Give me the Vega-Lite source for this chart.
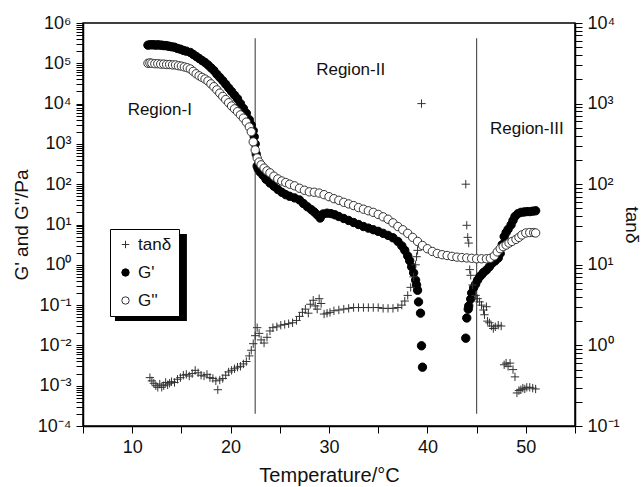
{
  "$schema": "https://vega.github.io/schema/vega-lite/v6.json",
  "width": 492,
  "height": 403,
  "autosize": {"type": "none"},
  "padding": {"left": 83, "top": 23, "right": 68, "bottom": 61},
  "background": "white",
  "config": {
    "font": "Liberation Sans",
    "view": {"stroke": "black", "strokeWidth": 1.5},
    "axis": {"domainColor": "black", "domainWidth": 1.5, "tickColor": "black", "tickWidth": 1, "labelColor": "#111", "titleColor": "#111", "labelFont": "Liberation Sans", "titleFont": "Liberation Sans", "grid": false, "labelFontSize": 18, "titleFontSize": 19, "titleFontWeight": "normal", "labelOverlap": false, "tickSize": 7}
  },
  "datasets": {
    "vl": [{"T": 22.5}, {"T": 45}],
    "d": [
      {"s":"G'","T":11.6,"v":282000},{"s":"G'","T":11.8,"v":288000},{"s":"G'","T":12.0,"v":288000},{"s":"G'","T":12.2,"v":288000},{"s":"G'","T":12.4,"v":282000},{"s":"G'","T":12.6,"v":288000},{"s":"G'","T":12.8,"v":282000},{"s":"G'","T":13.0,"v":282000},{"s":"G'","T":13.2,"v":275000},{"s":"G'","T":13.4,"v":275000},{"s":"G'","T":13.6,"v":269000},{"s":"G'","T":13.8,"v":263000},{"s":"G'","T":14.0,"v":257000},{"s":"G'","T":14.3,"v":251000},{"s":"G'","T":14.6,"v":234000},{"s":"G'","T":14.9,"v":224000},{"s":"G'","T":15.2,"v":209000},{"s":"G'","T":15.5,"v":200000},{"s":"G'","T":15.9,"v":186000},{"s":"G'","T":16.2,"v":166000},{"s":"G'","T":16.5,"v":148000},{"s":"G'","T":16.8,"v":132000},{"s":"G'","T":17.1,"v":117000},{"s":"G'","T":17.4,"v":105000},{"s":"G'","T":17.7,"v":91200},{"s":"G'","T":18.0,"v":77600},{"s":"G'","T":18.3,"v":66100},{"s":"G'","T":18.6,"v":53700},{"s":"G'","T":18.9,"v":44700},{"s":"G'","T":19.2,"v":37200},{"s":"G'","T":19.5,"v":30200},{"s":"G'","T":19.8,"v":24500},{"s":"G'","T":20.1,"v":20000},{"s":"G'","T":20.4,"v":16200},{"s":"G'","T":20.7,"v":13200},{"s":"G'","T":21.0,"v":10000},{"s":"G'","T":21.3,"v":7590},{"s":"G'","T":21.6,"v":5750},{"s":"G'","T":21.9,"v":3980},{"s":"G'","T":22.1,"v":2950},{"s":"G'","T":22.3,"v":2140},{"s":"G'","T":22.4,"v":1510},{"s":"G'","T":22.5,"v":1000},{"s":"G'","T":22.6,"v":562},{"s":"G'","T":22.7,"v":282},{"s":"G'","T":22.8,"v":240},{"s":"G'","T":23.0,"v":200},{"s":"G'","T":23.3,"v":166},{"s":"G'","T":23.6,"v":132},{"s":"G'","T":24.0,"v":107},{"s":"G'","T":24.4,"v":89.1},{"s":"G'","T":24.8,"v":74.1},{"s":"G'","T":25.2,"v":63.1},{"s":"G'","T":25.6,"v":55.0},{"s":"G'","T":26.0,"v":50.1},{"s":"G'","T":26.5,"v":45.7},{"s":"G'","T":27.0,"v":40.7},{"s":"G'","T":27.4,"v":33.1},{"s":"G'","T":27.8,"v":27.5},{"s":"G'","T":28.2,"v":23.4},{"s":"G'","T":28.5,"v":20.4},{"s":"G'","T":28.8,"v":17.4},{"s":"G'","T":29.1,"v":14.5},{"s":"G'","T":29.4,"v":18.2},{"s":"G'","T":29.8,"v":19.1},{"s":"G'","T":30.2,"v":18.6},{"s":"G'","T":30.6,"v":17.4},{"s":"G'","T":31.0,"v":15.8},{"s":"G'","T":31.5,"v":14.1},{"s":"G'","T":32.0,"v":12.6},{"s":"G'","T":32.5,"v":11.2},{"s":"G'","T":33.0,"v":10.0},{"s":"G'","T":33.5,"v":8.91},{"s":"G'","T":34.0,"v":8.13},{"s":"G'","T":34.5,"v":7.41},{"s":"G'","T":35.0,"v":6.76},{"s":"G'","T":35.5,"v":6.03},{"s":"G'","T":36.0,"v":5.37},{"s":"G'","T":36.5,"v":4.68},{"s":"G'","T":37.0,"v":3.80},{"s":"G'","T":37.4,"v":2.95},{"s":"G'","T":37.7,"v":2.29},{"s":"G'","T":38.0,"v":1.66},{"s":"G'","T":38.2,"v":1.26},{"s":"G'","T":38.4,"v":0.891},{"s":"G'","T":38.6,"v":0.631},{"s":"G'","T":38.8,"v":0.417},{"s":"G'","T":38.9,"v":0.316},{"s":"G'","T":39.0,"v":0.234},{"s":"G'","T":39.1,"v":0.120},{"s":"G'","T":39.3,"v":0.0631},{"s":"G'","T":39.4,"v":0.00977},{"s":"G'","T":39.5,"v":0.00288},{"s":"G'","T":43.9,"v":0.0151},{"s":"G'","T":44.0,"v":0.0479},{"s":"G'","T":44.15,"v":0.0794},{"s":"G'","T":44.2,"v":0.0955},{"s":"G'","T":44.4,"v":0.141},{"s":"G'","T":44.5,"v":0.2},{"s":"G'","T":44.7,"v":0.269},{"s":"G'","T":44.9,"v":0.331},{"s":"G'","T":45.1,"v":0.417},{"s":"G'","T":45.3,"v":0.501},{"s":"G'","T":45.5,"v":0.562},{"s":"G'","T":45.7,"v":0.646},{"s":"G'","T":46.0,"v":0.741},{"s":"G'","T":46.3,"v":0.891},{"s":"G'","T":46.6,"v":1.10},{"s":"G'","T":46.9,"v":1.26},{"s":"G'","T":47.2,"v":1.48},{"s":"G'","T":47.4,"v":1.91},{"s":"G'","T":47.6,"v":3.16},{"s":"G'","T":47.8,"v":5.01},{"s":"G'","T":48.0,"v":6.31},{"s":"G'","T":48.2,"v":7.59},{"s":"G'","T":48.5,"v":9.77},{"s":"G'","T":48.7,"v":12.6},{"s":"G'","T":48.9,"v":15.8},{"s":"G'","T":49.2,"v":18.6},{"s":"G'","T":49.5,"v":20.0},{"s":"G'","T":49.8,"v":20.4},{"s":"G'","T":50.1,"v":20.9},{"s":"G'","T":50.4,"v":20.9},{"s":"G'","T":50.7,"v":21.4},{"s":"G'","T":51.0,"v":21.9},
      {"s":"G''","T":11.6,"v":100000},{"s":"G''","T":11.8,"v":102000},{"s":"G''","T":12.0,"v":100000},{"s":"G''","T":12.3,"v":97700},{"s":"G''","T":12.6,"v":97700},{"s":"G''","T":12.9,"v":95500},{"s":"G''","T":13.2,"v":95500},{"s":"G''","T":13.5,"v":93300},{"s":"G''","T":13.8,"v":93300},{"s":"G''","T":14.1,"v":91200},{"s":"G''","T":14.4,"v":91200},{"s":"G''","T":14.7,"v":87100},{"s":"G''","T":15.0,"v":85100},{"s":"G''","T":15.3,"v":81300},{"s":"G''","T":15.6,"v":77600},{"s":"G''","T":15.9,"v":72400},{"s":"G''","T":16.2,"v":63100},{"s":"G''","T":16.5,"v":55000},{"s":"G''","T":16.8,"v":49000},{"s":"G''","T":17.1,"v":44700},{"s":"G''","T":17.4,"v":40700},{"s":"G''","T":17.7,"v":36300},{"s":"G''","T":18.0,"v":30900},{"s":"G''","T":18.3,"v":26300},{"s":"G''","T":18.6,"v":21900},{"s":"G''","T":18.9,"v":18200},{"s":"G''","T":19.2,"v":15100},{"s":"G''","T":19.5,"v":12600},{"s":"G''","T":19.8,"v":10500},{"s":"G''","T":20.1,"v":8710},{"s":"G''","T":20.4,"v":7410},{"s":"G''","T":20.7,"v":6310},{"s":"G''","T":21.0,"v":5250},{"s":"G''","T":21.3,"v":4370},{"s":"G''","T":21.6,"v":3470},{"s":"G''","T":21.9,"v":2630},{"s":"G''","T":22.1,"v":2000},{"s":"G''","T":22.3,"v":1120},{"s":"G''","T":22.5,"v":708},{"s":"G''","T":22.7,"v":447},{"s":"G''","T":22.9,"v":355},{"s":"G''","T":23.1,"v":302},{"s":"G''","T":23.4,"v":251},{"s":"G''","T":23.7,"v":214},{"s":"G''","T":24.0,"v":191},{"s":"G''","T":24.4,"v":158},{"s":"G''","T":24.8,"v":135},{"s":"G''","T":25.2,"v":120},{"s":"G''","T":25.6,"v":110},{"s":"G''","T":26.0,"v":100},{"s":"G''","T":26.5,"v":91.2},{"s":"G''","T":27.0,"v":79.4},{"s":"G''","T":27.5,"v":70.8},{"s":"G''","T":28.0,"v":64.6},{"s":"G''","T":28.5,"v":63.1},{"s":"G''","T":29.0,"v":60.3},{"s":"G''","T":29.5,"v":55.0},{"s":"G''","T":30.0,"v":49.0},{"s":"G''","T":30.5,"v":43.7},{"s":"G''","T":31.0,"v":39.8},{"s":"G''","T":31.5,"v":35.5},{"s":"G''","T":32.0,"v":32.4},{"s":"G''","T":32.5,"v":29.5},{"s":"G''","T":33.0,"v":26.3},{"s":"G''","T":33.5,"v":24.0},{"s":"G''","T":34.0,"v":21.9},{"s":"G''","T":34.5,"v":20.0},{"s":"G''","T":35.0,"v":17.8},{"s":"G''","T":35.5,"v":15.5},{"s":"G''","T":36.0,"v":13.5},{"s":"G''","T":36.5,"v":11.0},{"s":"G''","T":37.0,"v":8.91},{"s":"G''","T":37.5,"v":7.41},{"s":"G''","T":38.0,"v":6.03},{"s":"G''","T":38.5,"v":4.79},{"s":"G''","T":39.0,"v":3.80},{"s":"G''","T":39.5,"v":3.02},{"s":"G''","T":40.0,"v":2.51},{"s":"G''","T":40.5,"v":2.14},{"s":"G''","T":41.0,"v":1.91},{"s":"G''","T":41.5,"v":1.78},{"s":"G''","T":42.0,"v":1.70},{"s":"G''","T":42.5,"v":1.62},{"s":"G''","T":43.0,"v":1.55},{"s":"G''","T":43.5,"v":1.51},{"s":"G''","T":44.0,"v":1.48},{"s":"G''","T":44.5,"v":1.45},{"s":"G''","T":45.0,"v":1.41},{"s":"G''","T":45.5,"v":1.41},{"s":"G''","T":46.0,"v":1.41},{"s":"G''","T":46.4,"v":1.45},{"s":"G''","T":46.8,"v":1.66},{"s":"G''","T":47.1,"v":2.09},{"s":"G''","T":47.4,"v":2.51},{"s":"G''","T":47.7,"v":2.82},{"s":"G''","T":48.0,"v":3.09},{"s":"G''","T":48.3,"v":3.47},{"s":"G''","T":48.6,"v":3.80},{"s":"G''","T":49.0,"v":4.27},{"s":"G''","T":49.3,"v":4.79},{"s":"G''","T":49.6,"v":5.50},{"s":"G''","T":50.0,"v":6.17},{"s":"G''","T":50.4,"v":6.31},{"s":"G''","T":50.8,"v":6.31},{"s":"G''","T":51.0,"v":6.17},
      {"s":"tanδ","T":11.8,"v":0.398},{"s":"tanδ","T":12.0,"v":0.363},{"s":"tanδ","T":12.2,"v":0.339},{"s":"tanδ","T":12.4,"v":0.316},{"s":"tanδ","T":12.6,"v":0.302},{"s":"tanδ","T":12.8,"v":0.331},{"s":"tanδ","T":13.0,"v":0.302},{"s":"tanδ","T":13.2,"v":0.316},{"s":"tanδ","T":13.4,"v":0.347},{"s":"tanδ","T":13.6,"v":0.324},{"s":"tanδ","T":13.8,"v":0.339},{"s":"tanδ","T":14.0,"v":0.355},{"s":"tanδ","T":14.3,"v":0.347},{"s":"tanδ","T":14.6,"v":0.380},{"s":"tanδ","T":14.9,"v":0.398},{"s":"tanδ","T":15.2,"v":0.427},{"s":"tanδ","T":15.5,"v":0.437},{"s":"tanδ","T":15.8,"v":0.417},{"s":"tanδ","T":16.1,"v":0.447},{"s":"tanδ","T":16.4,"v":0.490},{"s":"tanδ","T":16.7,"v":0.457},{"s":"tanδ","T":17.0,"v":0.427},{"s":"tanδ","T":17.3,"v":0.417},{"s":"tanδ","T":17.6,"v":0.437},{"s":"tanδ","T":17.9,"v":0.398},{"s":"tanδ","T":18.2,"v":0.389},{"s":"tanδ","T":18.5,"v":0.363},{"s":"tanδ","T":18.7,"v":0.282},{"s":"tanδ","T":18.9,"v":0.372},{"s":"tanδ","T":19.2,"v":0.389},{"s":"tanδ","T":19.5,"v":0.427},{"s":"tanδ","T":19.8,"v":0.468},{"s":"tanδ","T":20.1,"v":0.490},{"s":"tanδ","T":20.4,"v":0.513},{"s":"tanδ","T":20.7,"v":0.537},{"s":"tanδ","T":21.0,"v":0.550},{"s":"tanδ","T":21.3,"v":0.589},{"s":"tanδ","T":21.6,"v":0.631},{"s":"tanδ","T":21.9,"v":0.741},{"s":"tanδ","T":22.1,"v":0.871},{"s":"tanδ","T":22.3,"v":1.05},{"s":"tanδ","T":22.5,"v":1.32},{"s":"tanδ","T":22.7,"v":1.66},{"s":"tanδ","T":22.9,"v":1.41},{"s":"tanδ","T":23.1,"v":1.17},{"s":"tanδ","T":23.4,"v":1.07},{"s":"tanδ","T":23.7,"v":1.26},{"s":"tanδ","T":24.0,"v":1.51},{"s":"tanδ","T":24.3,"v":1.66},{"s":"tanδ","T":24.7,"v":1.70},{"s":"tanδ","T":25.1,"v":1.78},{"s":"tanδ","T":25.5,"v":1.82},{"s":"tanδ","T":25.9,"v":1.86},{"s":"tanδ","T":26.3,"v":1.91},{"s":"tanδ","T":26.7,"v":2.04},{"s":"tanδ","T":27.0,"v":2.29},{"s":"tanδ","T":27.3,"v":2.57},{"s":"tanδ","T":27.6,"v":2.82},{"s":"tanδ","T":27.9,"v":2.51},{"s":"tanδ","T":28.1,"v":3.24},{"s":"tanδ","T":28.4,"v":3.63},{"s":"tanδ","T":28.6,"v":3.09},{"s":"tanδ","T":28.8,"v":2.82},{"s":"tanδ","T":29.0,"v":3.80},{"s":"tanδ","T":29.2,"v":3.31},{"s":"tanδ","T":29.5,"v":2.45},{"s":"tanδ","T":29.8,"v":2.51},{"s":"tanδ","T":30.1,"v":2.57},{"s":"tanδ","T":30.5,"v":2.69},{"s":"tanδ","T":31.0,"v":2.75},{"s":"tanδ","T":31.5,"v":2.82},{"s":"tanδ","T":32.0,"v":2.88},{"s":"tanδ","T":32.5,"v":2.95},{"s":"tanδ","T":33.0,"v":2.95},{"s":"tanδ","T":33.5,"v":2.95},{"s":"tanδ","T":34.0,"v":2.95},{"s":"tanδ","T":34.5,"v":2.95},{"s":"tanδ","T":35.0,"v":2.95},{"s":"tanδ","T":35.5,"v":2.88},{"s":"tanδ","T":36.0,"v":2.88},{"s":"tanδ","T":36.5,"v":2.88},{"s":"tanδ","T":37.0,"v":2.95},{"s":"tanδ","T":37.4,"v":3.16},{"s":"tanδ","T":37.7,"v":3.55},{"s":"tanδ","T":38.0,"v":4.17},{"s":"tanδ","T":38.3,"v":5.25},{"s":"tanδ","T":38.6,"v":7.08},{"s":"tanδ","T":38.8,"v":10.0},{"s":"tanδ","T":38.9,"v":12.6},{"s":"tanδ","T":39.0,"v":15.1},{"s":"tanδ","T":39.4,"v":1000},{"s":"tanδ","T":43.9,"v":100},{"s":"tanδ","T":44.0,"v":30.9},{"s":"tanδ","T":44.1,"v":21.9},{"s":"tanδ","T":44.2,"v":18.6},{"s":"tanδ","T":44.3,"v":8.71},{"s":"tanδ","T":44.4,"v":7.41},{"s":"tanδ","T":44.6,"v":5.62},{"s":"tanδ","T":44.9,"v":4.17},{"s":"tanδ","T":45.1,"v":3.80},{"s":"tanδ","T":45.3,"v":3.47},{"s":"tanδ","T":45.5,"v":3.16},{"s":"tanδ","T":45.7,"v":2.75},{"s":"tanδ","T":45.8,"v":2.40},{"s":"tanδ","T":46.0,"v":3.02},{"s":"tanδ","T":46.1,"v":2.0},{"s":"tanδ","T":46.3,"v":1.91},{"s":"tanδ","T":46.5,"v":1.74},{"s":"tanδ","T":46.7,"v":1.62},{"s":"tanδ","T":46.9,"v":1.70},{"s":"tanδ","T":47.2,"v":1.78},{"s":"tanδ","T":47.5,"v":1.74},{"s":"tanδ","T":47.8,"v":0.575},{"s":"tanδ","T":48.0,"v":0.603},{"s":"tanδ","T":48.2,"v":0.550},{"s":"tanδ","T":48.4,"v":0.603},{"s":"tanδ","T":48.7,"v":0.501},{"s":"tanδ","T":48.9,"v":0.407},{"s":"tanδ","T":49.1,"v":0.257},{"s":"tanδ","T":49.3,"v":0.275},{"s":"tanδ","T":49.5,"v":0.282},{"s":"tanδ","T":49.7,"v":0.295},{"s":"tanδ","T":49.9,"v":0.288},{"s":"tanδ","T":50.1,"v":0.302},{"s":"tanδ","T":50.4,"v":0.302},{"s":"tanδ","T":50.7,"v":0.295},{"s":"tanδ","T":51.0,"v":0.288}
    ]
  },
  "resolve": {"scale": {"y": "independent"}, "axis": {"y": "independent"}},
  "layer": [
    {
      "layer": [
        {
          "data": {"name": "vl"},
          "mark": {"type": "rule", "color": "#555", "strokeWidth": 1.2},
          "encoding": {
            "x": {"field": "T", "type": "quantitative"},
            "y": {"datum": 420000},
            "y2": {"datum": 0.0002}
          }
        },
        {
          "data": {"values": [{}]},
          "mark": {"type": "rect", "color": "black"},
          "encoding": {
            "x": {"datum": 8.25},
            "x2": {"datum": 15.56},
            "y": {"datum": 5.8},
            "y2": {"datum": 0.0404}
          }
        },
        {
          "data": {"name": "d"},
          "transform": [{"filter": "datum.s !== 'tanδ'"}],
          "mark": {"type": "point", "size": 70, "strokeWidth": 1, "opacity": 1},
          "encoding": {
            "x": {
              "field": "T", "type": "quantitative",
              "scale": {"domain": [5, 55], "nice": false, "zero": false},
              "axis": {
                "title": "Temperature/°C", "titleFontSize": 20, "titlePadding": 9,
                "values": [5, 10, 15, 20, 25, 30, 35, 40, 45, 50, 55],
                "labelExpr": "datum.value % 10 === 0 ? datum.label : ''",
                "labelPadding": 5,
                "encode": {"ticks": {"update": {"y2": {"signal": "datum.value % 10 === 0 ? 7 : 4"}}}}
              }
            },
            "y": {
              "field": "v", "type": "quantitative",
              "scale": {"type": "log", "domain": [0.0001, 1000000], "nice": false},
              "axis": {
                "title": "G' and G''/Pa", "titlePadding": 6,
                "values": [0.0001,0.0002,0.0003,0.0004,0.0005,0.0006,0.0007,0.0008,0.0009,0.001,0.002,0.003,0.004,0.005,0.006,0.007,0.008,0.009,0.01,0.02,0.03,0.04,0.05,0.06,0.07,0.08,0.09,0.1,0.2,0.3,0.4,0.5,0.6,0.7,0.8,0.9,1,2,3,4,5,6,7,8,9,10,20,30,40,50,60,70,80,90,100,200,300,400,500,600,700,800,900,1000,2000,3000,4000,5000,6000,7000,8000,9000,10000,20000,30000,40000,50000,60000,70000,80000,90000,100000,200000,300000,400000,500000,600000,700000,800000,900000,1000000],
                "labelExpr": "abs(log(datum.value)/LN10 - round(log(datum.value)/LN10)) < 0.01 ? '10' + ['⁻⁴','⁻³','⁻²','⁻¹','⁰','¹','²','³','⁴','⁵','⁶'][round(log(datum.value)/LN10) + 4] : ''",
                "labelPadding": 5,
                "encode": {"ticks": {"update": {"x2": {"signal": "abs(log(datum.value)/LN10 - round(log(datum.value)/LN10)) < 0.01 ? -7 : -3.5"}}}}
              }
            },
            "shape": {"field": "s", "type": "nominal", "scale": {"domain": ["tanδ", "G'", "G''"], "range": ["M-1,0H1M0,-1V1", "circle", "circle"]}, "legend": {"orient": "none", "legendX": 27, "legendY": 206, "title": null, "strokeColor": "black", "fillColor": "white", "padding": 7, "labelFontSize": 17, "labelColor": "#111", "symbolSize": 55, "rowPadding": 10, "labelOffset": 4, "symbolStrokeWidth": 1}},
            "fill": {"field": "s", "type": "nominal", "scale": {"domain": ["tanδ", "G'", "G''"], "range": ["transparent", "black", "white"]}, "legend": {"orient": "none", "legendX": 27, "legendY": 206, "title": null, "strokeColor": "black", "fillColor": "white", "padding": 7, "labelFontSize": 17, "labelColor": "#111", "symbolSize": 55, "rowPadding": 10, "labelOffset": 4, "symbolStrokeWidth": 1}},
            "stroke": {"field": "s", "type": "nominal", "scale": {"domain": ["tanδ", "G'", "G''"], "range": ["#333", "black", "#333"]}, "legend": {"orient": "none", "legendX": 27, "legendY": 206, "title": null, "strokeColor": "black", "fillColor": "white", "padding": 7, "labelFontSize": 17, "labelColor": "#111", "symbolSize": 55, "rowPadding": 10, "labelOffset": 4, "symbolStrokeWidth": 1}}
          }
        },
        {
          "data": {"values": [{}]},
          "mark": {"type": "text", "fontSize": 17, "color": "#111", "baseline": "middle", "align": "center"},
          "encoding": {"x": {"datum": 12.8}, "y": {"datum": 6900}, "text": {"value": "Region-I"}}
        },
        {
          "data": {"values": [{}]},
          "mark": {"type": "text", "fontSize": 17, "color": "#111", "baseline": "middle", "align": "center"},
          "encoding": {"x": {"datum": 32.2}, "y": {"datum": 68000}, "text": {"value": "Region-II"}}
        },
        {
          "data": {"values": [{}]},
          "mark": {"type": "text", "fontSize": 17, "color": "#111", "baseline": "middle", "align": "center"},
          "encoding": {"x": {"datum": 50.1}, "y": {"datum": 2350}, "text": {"value": "Region-III"}}
        }
      ]
    },
    {
      "data": {"name": "d"},
      "transform": [{"filter": "datum.s === 'tanδ'"}],
      "mark": {"type": "point", "size": 70, "strokeWidth": 1, "opacity": 1},
      "encoding": {
        "x": {"field": "T", "type": "quantitative"},
        "y": {
          "field": "v", "type": "quantitative",
          "scale": {"type": "log", "domain": [0.1, 10000], "nice": false},
          "axis": {
            "orient": "right", "title": "tanδ", "titlePadding": 2,
            "values": [0.1,0.2,0.3,0.4,0.5,0.6,0.7,0.8,0.9,1,2,3,4,5,6,7,8,9,10,20,30,40,50,60,70,80,90,100,200,300,400,500,600,700,800,900,1000,2000,3000,4000,5000,6000,7000,8000,9000,10000],
            "labelExpr": "abs(log(datum.value)/LN10 - round(log(datum.value)/LN10)) < 0.01 ? '10' + ['⁻¹','⁰','¹','²','³','⁴'][round(log(datum.value)/LN10) + 1] : ''",
            "labelPadding": 5,
            "encode": {"ticks": {"update": {"x2": {"signal": "abs(log(datum.value)/LN10 - round(log(datum.value)/LN10)) < 0.01 ? 7 : 3.5"}}}}
          }
        },
        "shape": {"field": "s", "type": "nominal", "scale": {"domain": ["tanδ", "G'", "G''"], "range": ["M-1,0H1M0,-1V1", "circle", "circle"]}, "legend": {"orient": "none", "legendX": 27, "legendY": 206, "title": null, "strokeColor": "black", "fillColor": "white", "padding": 7, "labelFontSize": 17, "labelColor": "#111", "symbolSize": 55, "rowPadding": 10, "labelOffset": 4, "symbolStrokeWidth": 1}},
        "fill": {"field": "s", "type": "nominal", "scale": {"domain": ["tanδ", "G'", "G''"], "range": ["transparent", "black", "white"]}, "legend": {"orient": "none", "legendX": 27, "legendY": 206, "title": null, "strokeColor": "black", "fillColor": "white", "padding": 7, "labelFontSize": 17, "labelColor": "#111", "symbolSize": 55, "rowPadding": 10, "labelOffset": 4, "symbolStrokeWidth": 1}},
        "stroke": {"field": "s", "type": "nominal", "scale": {"domain": ["tanδ", "G'", "G''"], "range": ["#333", "black", "#333"]}, "legend": {"orient": "none", "legendX": 27, "legendY": 206, "title": null, "strokeColor": "black", "fillColor": "white", "padding": 7, "labelFontSize": 17, "labelColor": "#111", "symbolSize": 55, "rowPadding": 10, "labelOffset": 4, "symbolStrokeWidth": 1}}
      }
    }
  ]
}
